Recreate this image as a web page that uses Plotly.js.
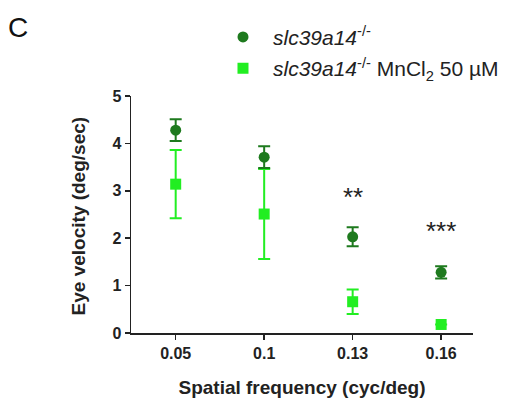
<!DOCTYPE html>
<html>
<head>
<meta charset="utf-8">
<script src="https://cdn.plot.ly/plotly-3.0.1.min.js"></script>
<style>html,body{margin:0;padding:0;background:#fff;}#chart{width:512px;height:405px;}</style>
</head>
<body>
<div id="chart"></div>
<script>
var categories = ["0.05", "0.1", "0.13", "0.16"];
var ctrlValues = [4.28, 3.71, 2.03, 1.28];
var ctrlErrors = [0.23, 0.23, 0.20, 0.13];
var mnValues = [3.14, 2.51, 0.66, 0.18];
var mnErrors = [0.72, 0.95, 0.26, 0.0];
var sigLabels = ["", "", "**", "***"];
var sigHeights = [0, 0, 2.86, 2.15];
var xTitle = "<b>Spatial frequency (cyc/deg)</b>";
var yTitle = "<b>Eye velocity (deg/sec)</b>";

var darkGreen = "#1e7a1e";
var lightGreen = "#22ee22";

var traces = [
  {
    x: categories, y: mnValues, type: "scatter", mode: "markers",
    name: "<i>slc39a14</i><sup>-/-</sup> MnCl<sub>2</sub> 50 µM",
    legendgroup: "b", legendrank: 2,
    marker: {symbol: "square", size: 11, color: lightGreen},
    error_y: {type: "data", array: mnErrors, visible: true, color: lightGreen, thickness: 2, width: 6}
  },
  {
    x: categories, y: ctrlValues, type: "scatter", mode: "markers",
    name: "<i>slc39a14</i><sup>-/-</sup>",
    legendgroup: "a", legendrank: 1,
    marker: {symbol: "circle", size: 11, color: darkGreen},
    error_y: {type: "data", array: ctrlErrors, visible: true, color: darkGreen, thickness: 2, width: 6}
  }
];

var annotations = [];
for (var i = 0; i < categories.length; i++) {
  if (sigLabels[i]) {
    annotations.push({x: i, y: sigHeights[i], xref: "x", yref: "y",
      text: sigLabels[i], showarrow: false, font: {size: 26, color: "#222", family: "Liberation Sans, Arial"}});
  }
}
annotations.push({
  x: -0.33, y: 1.287, xref: "paper", yref: "paper", xanchor: "center", yanchor: "middle",
  text: "C", showarrow: false, font: {size: 28, color: "#111", family: "Liberation Sans, Arial"}
});
annotations.push({
  x: -0.155, y: 0.496, xref: "paper", yref: "paper", xanchor: "center", yanchor: "middle",
  text: yTitle, textangle: -90, showarrow: false, font: {size: 19, color: "#222", family: "Liberation Sans, Arial"}
});

var layout = {
  width: 512, height: 405,
  margin: {l: 131, r: 39, t: 96, b: 72, autoexpand: false},
  paper_bgcolor: "#fff", plot_bgcolor: "#fff",
  font: {family: "Liberation Sans, Arial", color: "#222"},
  showlegend: true,
  legend: {
    x: 0.416, y: 0.9585, xref: "container", yref: "container", xanchor: "left", yanchor: "top",
    font: {size: 21, color: "#222"}, tracegroupgap: 1, bgcolor: "rgba(0,0,0,0)",
    itemwidth: 50
  },
  xaxis: {
    type: "category", range: [-0.505, 3.36],
    showline: true, linecolor: "#222", linewidth: 1.5,
    ticks: "outside", ticklen: 5, tickcolor: "#222", tickwidth: 1.5,
    showgrid: false, zeroline: false, automargin: false,
    tickfont: {size: 16, color: "#222", family: "Liberation Sans, Arial", weight: "bold"},
    title: {text: xTitle, font: {size: 19, color: "#222"}, standoff: 20}
  },
  yaxis: {
    range: [0, 5], dtick: 1,
    showline: true, linecolor: "#222", linewidth: 1.5,
    ticks: "outside", ticklen: 5, tickcolor: "#222", tickwidth: 1.5,
    showgrid: false, zeroline: false, automargin: false,
    tickfont: {size: 16, color: "#222", family: "Liberation Sans, Arial", weight: "bold"}
  },
  annotations: annotations
};

Plotly.newPlot("chart", traces, layout, {displayModeBar: false, staticPlot: true});
</script>
</body>
</html>
